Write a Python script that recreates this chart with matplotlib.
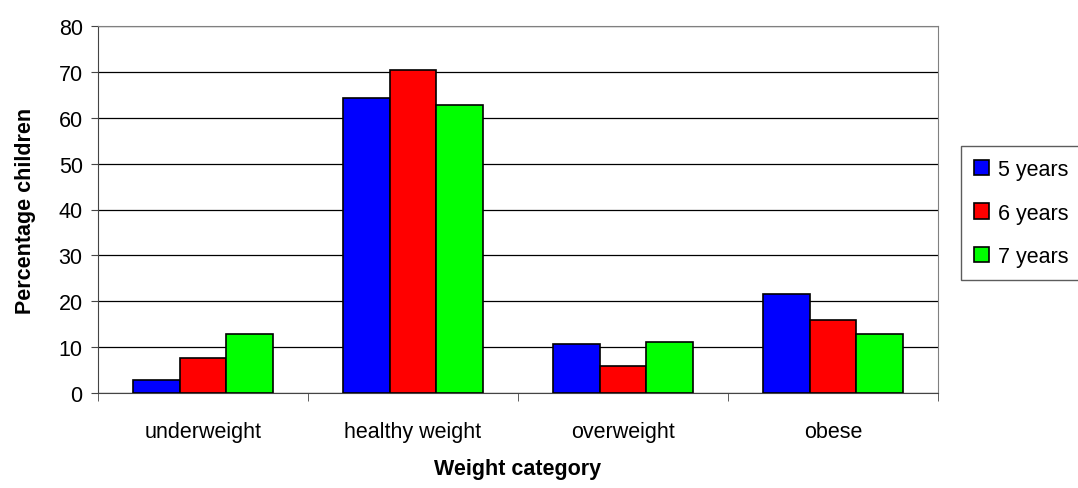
import numpy as np
import matplotlib.pyplot as plt

categories = ["underweight", "healthy weight", "overweight", "obese"]
series_names = ["5 years", "6 years", "7 years"]
age5 = [2.9, 64.3, 10.7, 21.5]
age6 = [7.6, 70.4, 5.9, 15.9]
age7 = [12.8, 62.7, 11.2, 12.8]
colors = ["#0000ff", "#ff0000", "#00ff00"]

plt.rcParams['font.family'] = ['Liberation Sans', 'DejaVu Sans']
fs = 15.5

W, H = 1078, 489
fig = plt.figure(figsize=(W / 100, H / 100), dpi=100)
ax = fig.add_axes([98 / W, (H - 394) / H, (938 - 98) / W, (394 - 27) / H])

x = np.arange(len(categories))
bw = 1 / 4.5
for i, (vals, name) in enumerate(zip([age5, age6, age7], series_names)):
    ax.bar(x + (i - 1) * bw, vals, width=bw, color=colors[i], edgecolor="black",
           linewidth=1.2, label=name, zorder=3)

ax.set_xlim(-0.5, len(categories) - 0.5)
ax.set_ylim(0, 80)
ax.set_yticks(range(0, 81, 10))
ax.yaxis.grid(True, color="black", linewidth=0.9, zorder=0)

ax.set_xticks(x)
ax.set_xticklabels(categories, fontsize=fs)
ax.tick_params(axis="x", which="major", length=0, pad=20)
ax.set_xticks(np.arange(-0.5, len(categories), 1), minor=True)
ax.tick_params(axis="x", which="minor", length=6, direction="out", color="#444444")
ax.tick_params(axis="y", labelsize=fs, length=5, direction="out", color="#444444", pad=6)

for s in ["top", "right"]:
    ax.spines[s].set_color("#808080")
for s in ["left", "bottom"]:
    ax.spines[s].set_color("#444444")

ax.set_ylabel("Percentage children", fontsize=fs, fontweight="bold", labelpad=16)
ax.set_xlabel("Weight category", fontsize=fs, fontweight="bold", labelpad=12)

leg = fig.legend(loc="upper left", bbox_to_anchor=(961 / W, (H - 147) / H),
                 fontsize=fs, frameon=True, fancybox=False, edgecolor="#333333",
                 handlelength=0.7, handleheight=0.7, handletextpad=0.4,
                 labelspacing=1.05, borderpad=0.6, borderaxespad=0)
leg.get_frame().set_linewidth(1.0)

fig.savefig("out.png", dpi=100)
